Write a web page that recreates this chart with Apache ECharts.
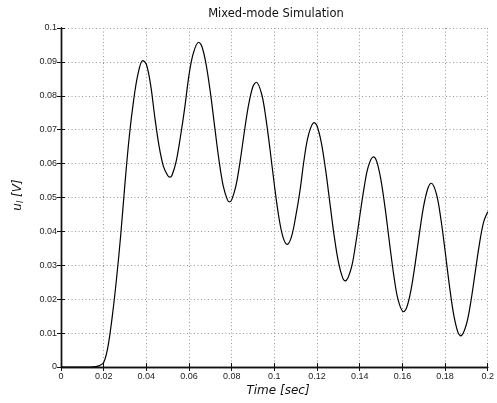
<!DOCTYPE html>
<html>
<head>
<meta charset="utf-8">
<script src="https://cdn.jsdelivr.net/npm/echarts@6/dist/echarts.min.js"></script>
<style>
html,body{margin:0;padding:0;background:#fff;}
#chart{width:497px;height:403px;}
</style>
</head>
<body>
<div id="chart"></div>
<script>
// Time [sec]
var timeValues = [0, 0.010, 0.014, 0.016, 0.018, 0.020, 0.022, 0.024, 0.026, 0.028, 0.030, 0.032, 0.034, 0.036, 0.0383,
  0.040, 0.042, 0.044, 0.046, 0.048, 0.050, 0.051, 0.052, 0.054, 0.056, 0.058, 0.060, 0.062, 0.0645,
  0.066, 0.068, 0.070, 0.072, 0.074, 0.076, 0.078, 0.079, 0.080, 0.082, 0.084, 0.086, 0.088, 0.090, 0.0915,
  0.094, 0.096, 0.098, 0.100, 0.102, 0.104, 0.106, 0.108, 0.110, 0.112, 0.114, 0.116, 0.1186,
  0.120, 0.122, 0.124, 0.126, 0.128, 0.130, 0.132, 0.1333, 0.136, 0.138, 0.140, 0.142, 0.144, 0.1464,
  0.148, 0.150, 0.152, 0.154, 0.156, 0.158, 0.1605, 0.162, 0.164, 0.166, 0.168, 0.170, 0.172, 0.1736,
  0.176, 0.178, 0.180, 0.182, 0.184, 0.186, 0.1874, 0.190, 0.192, 0.194, 0.196, 0.198, 0.200];
// u_l [V]
var voltageValues = [0, 0, 0, 0.0001, 0.0004, 0.0013, 0.0060, 0.0148, 0.0259, 0.0390, 0.0543, 0.0680, 0.0785, 0.0862, 0.0904,
  0.0893, 0.0832, 0.0735, 0.0650, 0.0592, 0.0565, 0.0560, 0.0565, 0.0607, 0.0680, 0.0765, 0.0862, 0.0925, 0.0958,
  0.0946, 0.0893, 0.0810, 0.0710, 0.0612, 0.0535, 0.0493, 0.0487, 0.0493, 0.0535, 0.0609, 0.0697, 0.0776, 0.0828, 0.0840,
  0.0806, 0.0735, 0.0640, 0.0537, 0.0446, 0.0384, 0.0362, 0.0384, 0.0444, 0.0520, 0.0615, 0.0685, 0.0721,
  0.0711, 0.0662, 0.0582, 0.0485, 0.0388, 0.0310, 0.0263, 0.0254, 0.0291, 0.0359, 0.0444, 0.0527, 0.0591, 0.0620,
  0.0606, 0.0550, 0.0464, 0.0364, 0.0269, 0.0198, 0.0163, 0.0175, 0.0226, 0.0305, 0.0395, 0.0476, 0.0528, 0.0542,
  0.0509, 0.0438, 0.0343, 0.0242, 0.0156, 0.0103, 0.0092, 0.0126, 0.0190, 0.0274, 0.0359, 0.0426, 0.0458];
var xTickLabels = ['0', '0.02', '0.04', '0.06', '0.08', '0.1', '0.12', '0.14', '0.16', '0.18', '0.2'];
var yTickLabels = ['0', '0.01', '0.02', '0.03', '0.04', '0.05', '0.06', '0.07', '0.08', '0.09', '0.1'];
var titleText = 'Mixed-mode Simulation';

var points = timeValues.map(function (t, i) { return [t, voltageValues[i]]; });

var chart = echarts.init(document.getElementById('chart'), null, {renderer: 'canvas'});
var labelFont = {color: '#222', fontSize: 9, fontFamily: 'Liberation Sans'};
var axisLineStyle = {lineStyle: {color: '#111', width: 1.4}};
var gridStyle = {show: true, lineStyle: {color: '#999', width: 1, type: [1, 2.5]}};

chart.setOption({
  animation: false,
  backgroundColor: '#fff',
  grid: {left: 61, right: 6, top: 28, bottom: 36, containLabel: false},
  graphic: [
    {type: 'text', x: 276, y: 14, style: {text: titleText, fontSize: 11.5, fontFamily: 'DejaVu Sans', fill: '#111', textAlign: 'center', textVerticalAlign: 'middle'}},
    {type: 'text', x: 278, y: 391, style: {
      rich: {i: {fontStyle: 'italic', fontSize: 12, fontFamily: 'DejaVu Sans', fill: '#111'}},
      text: '{i|Time [sec]}', textAlign: 'center', textVerticalAlign: 'middle'}},
    {type: 'text', x: 18, y: 195, rotation: Math.PI / 2, style: {
      rich: {
        i: {fontStyle: 'italic', fontSize: 12, fontFamily: 'DejaVu Sans', fill: '#111'},
        s: {fontStyle: 'italic', fontSize: 8.5, fontFamily: 'DejaVu Sans', fill: '#111', padding: [6, 0, 0, 0]}
      },
      text: '{i|u}{s|l}{i| [V]}', textAlign: 'center', textVerticalAlign: 'middle'}}
  ],
  xAxis: [
    {type: 'value', min: 0, max: 0.2, interval: 0.02, position: 'bottom',
      axisLine: axisLineStyle, axisTick: {inside: true, length: 4, lineStyle: {color: '#111'}},
      axisLabel: Object.assign({margin: 5, formatter: function (v) { return xTickLabels[Math.round(v / 0.02)]; }}, labelFont),
      splitLine: gridStyle},
    {type: 'value', min: 0, max: 0.2, interval: 0.02, position: 'top',
      axisLine: axisLineStyle, axisTick: {inside: true, length: 4, lineStyle: {color: '#111'}},
      axisLabel: {show: false}, splitLine: {show: false}}
  ],
  yAxis: [
    {type: 'value', min: 0, max: 0.1, interval: 0.01, position: 'left',
      axisLine: axisLineStyle, axisTick: {inside: true, length: 4, lineStyle: {color: '#111'}},
      axisLabel: Object.assign({margin: 4, formatter: function (v) { return yTickLabels[Math.round(v / 0.01)]; }}, labelFont),
      splitLine: gridStyle},
    {type: 'value', min: 0, max: 0.1, interval: 0.01, position: 'right',
      axisLine: axisLineStyle, axisTick: {inside: true, length: 4, lineStyle: {color: '#111'}},
      axisLabel: {show: false}, splitLine: {show: false}}
  ],
  series: [{
    type: 'line', xAxisIndex: 0, yAxisIndex: 0, data: points,
    showSymbol: false, smooth: 0.35,
    lineStyle: {color: '#000', width: 1.2}
  }]
});
</script>
</body>
</html>
